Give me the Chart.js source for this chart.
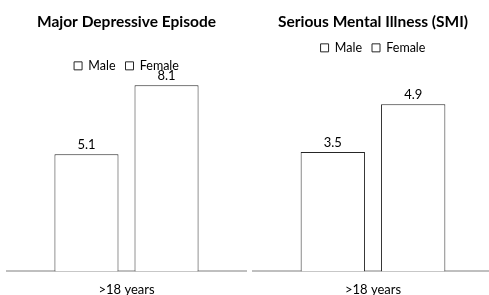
<!DOCTYPE html>
<html>
<head>
<meta charset="utf-8">
<script src="https://cdn.jsdelivr.net/npm/chart.js@4"></script>
<style>
  body { margin: 0; background: #fff; overflow: hidden; }
  .box { position: absolute; top: 0; height: 295px; }
</style>
</head>
<body>
<div class="box" style="left:0;width:247px"><canvas id="mdeChart"></canvas></div>
<div class="box" style="left:247px;width:247px"><canvas id="smiChart"></canvas></div>
<script>
// data
var categories = ['>18 years'];
var seriesNames = ['Male', 'Female'];
var mdeMale = [5.1];
var mdeFemale = [8.1];
var smiMale = [3.5];
var smiFemale = [4.9];

Chart.defaults.font.family = 'Lato, "Open Sans", sans-serif';
Chart.defaults.color = '#000';

// draws the value above every bar
var valueLabels = {
  id: 'valueLabels',
  afterDatasetsDraw: function (chart) {
    var ctx = chart.ctx;
    ctx.save();
    ctx.font = '13px Lato, sans-serif';
    ctx.fillStyle = '#000';
    ctx.textAlign = 'center';
    ctx.textBaseline = 'bottom';
    chart.data.datasets.forEach(function (ds, i) {
      chart.getDatasetMeta(i).data.forEach(function (bar, j) {
        ctx.fillText(ds.data[j].toFixed(1), bar.x, bar.y - 3);
      });
    });
    ctx.restore();
  }
};

function makeChart(id, title, male, female, yMax, titleBottom, pad) {
  var ctx = document.getElementById(id).getContext('2d');
  return new Chart(ctx, {
    type: 'bar',
    data: {
      labels: categories,
      datasets: [{
        label: seriesNames[0],
        data: male,
        backgroundColor: '#fff',
        borderColor: '#262626',
        borderWidth: 1
      }, {
        label: seriesNames[1],
        data: female,
        backgroundColor: '#fff',
        borderColor: '#262626',
        borderWidth: 1
      }]
    },
    options: {
      responsive: false,
      animation: false,
      maintainAspectRatio: false,
      categoryPercentage: 0.67,
      barPercentage: 0.8,
      layout: { padding: pad },
      plugins: {
        title: {
          display: true,
          text: title,
          font: { size: 15.5, weight: 'bold' },
          padding: { top: 13, bottom: titleBottom }
        },
        legend: {
          labels: {
            boxWidth: 8,
            boxHeight: 8,
            padding: 10,
            font: { size: 12.5 }
          }
        },
        tooltip: { enabled: false }
      },
      scales: {
        x: {
          grid: { display: false },
          border: { color: '#bfbfbf', width: 2 },
          ticks: { font: { size: 13 }, padding: 3 }
        },
        y: {
          display: false,
          min: 0,
          max: yMax
        }
      }
    },
    plugins: [valueLabels]
  });
}

document.getElementById('mdeChart').width = 247;
document.getElementById('mdeChart').height = 295;
document.getElementById('smiChart').width = 247;
document.getElementById('smiChart').height = 295;

makeChart('mdeChart', 'Major Depressive Episode', mdeMale, mdeFemale, 8.24, 18, { left: 7, right: 1, bottom: -6 });
makeChart('smiChart', 'Serious Mental Illness (SMI)', smiMale, smiFemale, 6.08, 0, { left: 6, right: 1, bottom: -6 });
</script>
</body>
</html>
